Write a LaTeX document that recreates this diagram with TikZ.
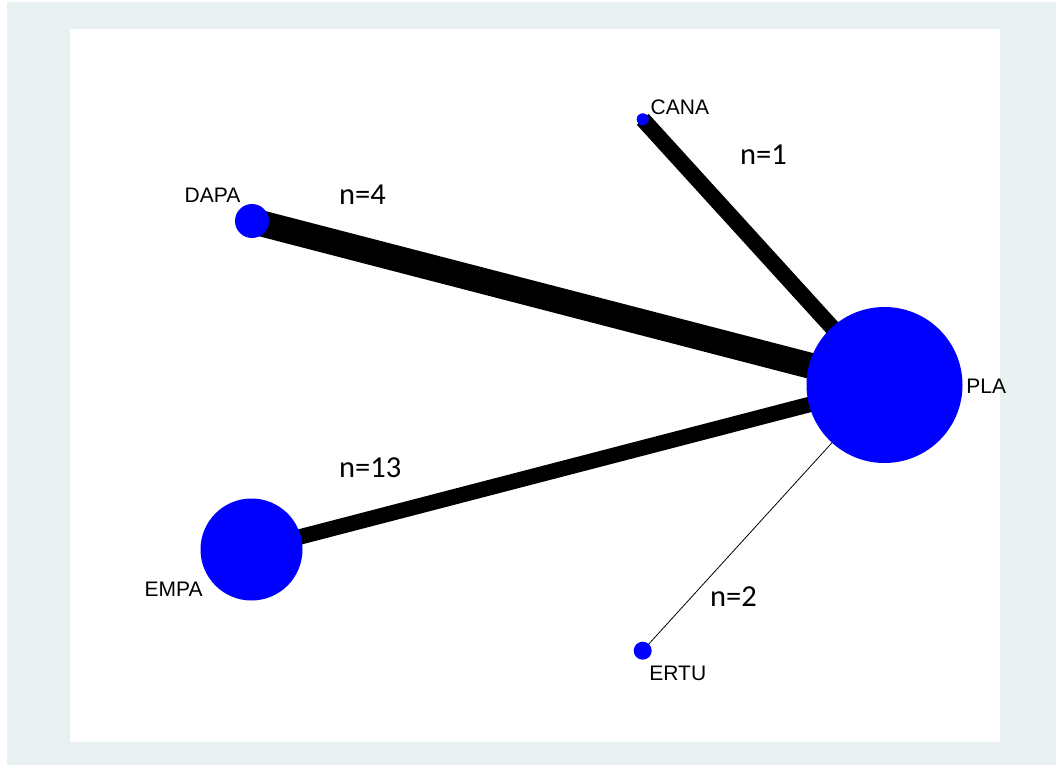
\documentclass[tikz,border=0pt]{standalone}
\usepackage{fontspec}
\newfontfamily\arialf{Liberation Sans}
\newfontfamily\calibf{Carlito}
\usetikzlibrary{backgrounds}
\definecolor{bandgray}{RGB}{232,240,242}
\definecolor{nodeblue}{RGB}{0,0,255}
\tikzset{
  trt/.style={circle, fill=nodeblue, draw=none, inner sep=0pt, minimum size=#1},
  trtlabel/.style={anchor=base west, inner sep=0pt, font=\arialf\fontsize{21bp}{23bp}\selectfont},
  nlabel/.style={anchor=base west, inner sep=0pt, font=\calibf\fontsize{30.5bp}{32bp}\selectfont},
  edge/.style={draw=black, line cap=butt, line width=#1}
}
\begin{document}
\begin{tikzpicture}[x=1bp,y=-1bp]
\useasboundingbox (0,0) rectangle (1056,765);
% nodes
\node[trt=156bp] (PLA) at (884.5,385) {};
\node[trt=102bp] (EMPA) at (251.5,549.5) {};
\node[trt=34bp] (DAPA) at (252,221) {};
\node[trt=12bp] (CANA) at (642.7,119.3) {};
\node[trt=18bp] (ERTU) at (642.7,650.7) {};
\begin{scope}[on background layer]
  \fill[bandgray] (7,2) rectangle (1056,765);
  \fill[white] (70,29) rectangle (1000,742);
  \draw[edge=16bp] (CANA.center) -- (PLA.center);
  \draw[edge=26bp] (DAPA.center) -- (PLA.center);
  \draw[edge=15.5bp] (EMPA.center) -- (PLA.center);
  \draw[edge=0.8bp] (ERTU.center) -- (PLA.center);
\end{scope}
% treatment labels
\node[trtlabel] (tCANA) at (650.5,114) {CANA};
\node[trtlabel] (tDAPA) at (184.5,202.3) {DAPA};
\node[trtlabel] (tEMPA) at (144.5,596) {EMPA};
\node[trtlabel] (tERTU) at (649.2,680.7) {ERTU};
\node[trtlabel] (tPLA) at (966.2,393.3) {PLA};
% edge labels
\node[nlabel] (n1) at (740,164) {n=1};
\node[nlabel] (n4) at (339,204.3) {n=4};
\node[nlabel] (n13) at (339,477.5) {n=13};
\node[nlabel] (n2) at (710,606) {n=2};
\end{tikzpicture}
\end{document}
